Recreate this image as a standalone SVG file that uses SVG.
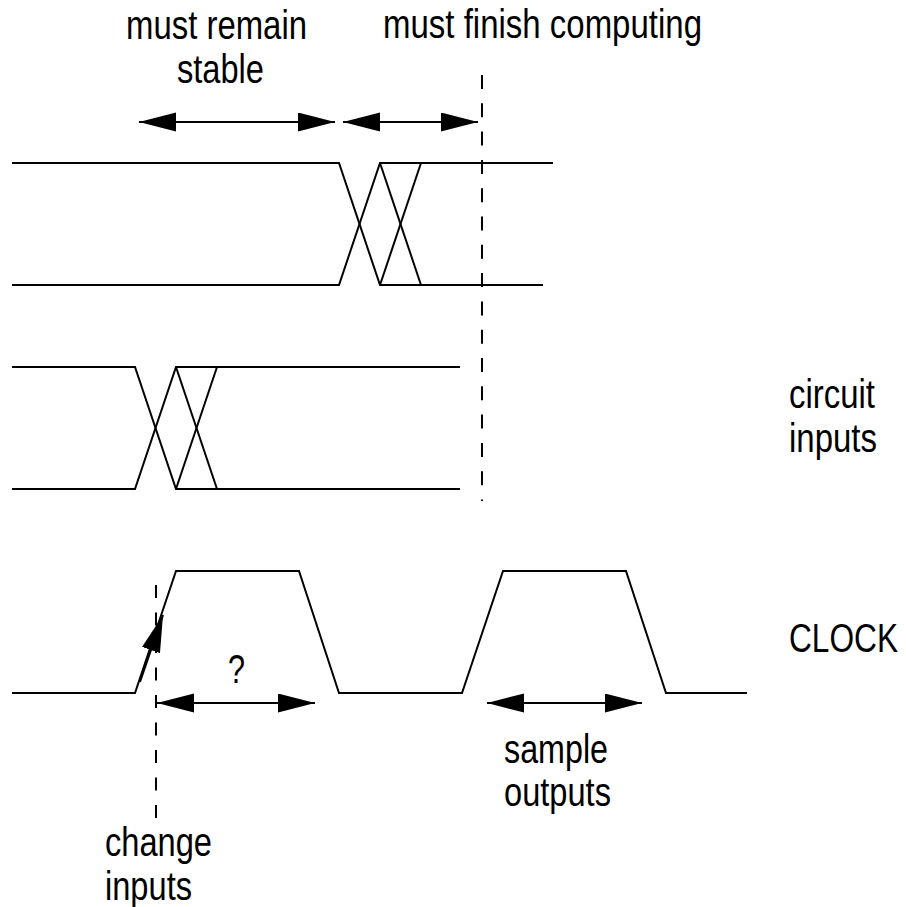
<svg xmlns="http://www.w3.org/2000/svg" width="906" height="907" viewBox="0 0 906 907">
  <style>
    .wave { fill: none; stroke: #000; stroke-width: 2; stroke-linejoin: miter; }
    .dash { fill: none; stroke: #000; stroke-width: 2; }
    .span { fill: none; stroke: #000; stroke-width: 2.2; marker-start: url(#head); marker-end: url(#head); }
    .lbl { font-family: "Liberation Sans Narrow", "Arial Narrow", "Liberation Sans", sans-serif; font-size: 40px; fill: #000; }
  </style>
  <defs>
    <marker id="head" markerUnits="userSpaceOnUse" markerWidth="38" markerHeight="20" refX="37" refY="9.5" orient="auto-start-reverse" viewBox="0 0 38 20">
      <path d="M0,0 L37,9.5 L0,19 Z" fill="#000"/>
    </marker>
    <marker id="tip" markerUnits="userSpaceOnUse" markerWidth="38" markerHeight="20" refX="37" refY="9.5" orient="auto" viewBox="0 0 38 20">
      <path d="M0,0 L37,9.5 L0,19 Z" fill="#000"/>
    </marker>
  </defs>

  <!-- output signal: two overlapping transitions -->
  <g id="output-signal">
    <path class="wave" d="M12,163 H339 L380,285 H543"/>
    <path class="wave" d="M12,285 H339 L380,163 H553"/>
    <path class="wave" d="M380,163 L421,285"/>
    <path class="wave" d="M380,285 L421,163"/>
  </g>

  <!-- circuit inputs signal -->
  <g id="input-signal">
    <path class="wave" d="M12,367 H135 L176,489 H460"/>
    <path class="wave" d="M12,489 H135 L176,367 H460"/>
    <path class="wave" d="M176,367 L217,489"/>
    <path class="wave" d="M176,489 L217,367"/>
  </g>

  <!-- clock waveform -->
  <g id="clock">
    <path class="wave" d="M12,693 H135 L176,571 H299 L339,693 H462 L503,571 H626 L666,693 H747"/>
  </g>

  <!-- timing markers and spans -->
  <g id="connectors">
    <line class="dash" x1="482" y1="75" x2="482" y2="501" stroke-dasharray="14 14.3"/>
    <line class="dash" x1="156" y1="585" x2="156" y2="818" stroke-dasharray="13 14.5"/>
    <line class="span" x1="139" y1="122" x2="335" y2="122"/>
    <line class="span" x1="343" y1="122" x2="478" y2="122"/>
    <line class="span" x1="157" y1="703" x2="315" y2="703"/>
    <line class="span" x1="487" y1="703" x2="642" y2="703"/>
    <line x1="140" y1="682" x2="163" y2="615" stroke="#000" stroke-width="2" marker-end="url(#tip)"/>
  </g>

  <!-- labels -->
  <g id="labels">
    <text class="lbl" x="126" y="39" textLength="181" lengthAdjust="spacingAndGlyphs">must remain</text>
    <text class="lbl" x="177" y="83" textLength="87" lengthAdjust="spacingAndGlyphs">stable</text>
    <text class="lbl" x="383" y="38" textLength="319" lengthAdjust="spacingAndGlyphs">must finish computing</text>
    <text class="lbl" x="789" y="408" textLength="86" lengthAdjust="spacingAndGlyphs">circuit</text>
    <text class="lbl" x="789" y="452" textLength="88" lengthAdjust="spacingAndGlyphs">inputs</text>
    <text class="lbl" x="789" y="652" textLength="109" lengthAdjust="spacingAndGlyphs">CLOCK</text>
    <text class="lbl" x="228" y="683" textLength="17" lengthAdjust="spacingAndGlyphs">?</text>
    <text class="lbl" x="504" y="763" textLength="104" lengthAdjust="spacingAndGlyphs">sample</text>
    <text class="lbl" x="504" y="806" textLength="107" lengthAdjust="spacingAndGlyphs">outputs</text>
    <text class="lbl" x="105" y="856" textLength="107" lengthAdjust="spacingAndGlyphs">change</text>
    <text class="lbl" x="105" y="900" textLength="87" lengthAdjust="spacingAndGlyphs">inputs</text>
  </g>
</svg>
